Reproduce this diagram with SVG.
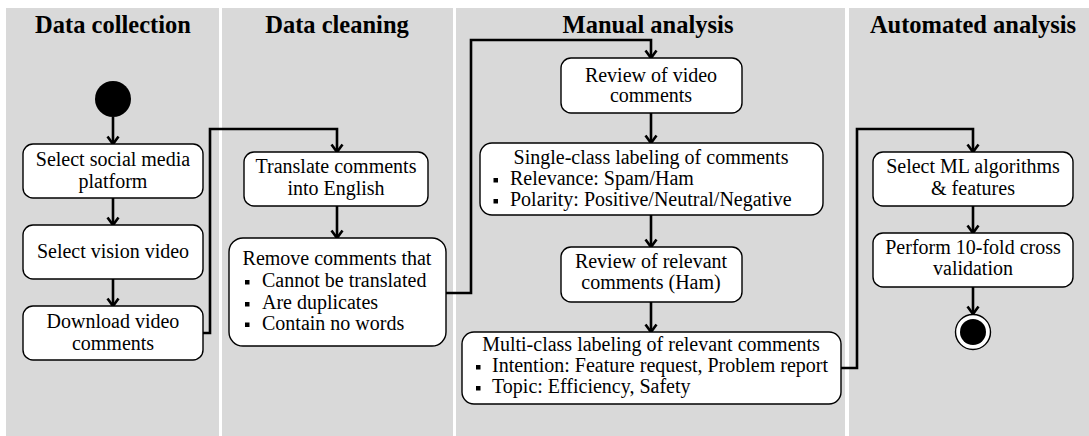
<svg xmlns="http://www.w3.org/2000/svg" width="1089" height="436" viewBox="0 0 1089 436">
<style>
.lane{fill:#d9d9d9}
.title{font-family:"Liberation Serif","Times New Roman",serif;font-weight:bold;font-size:24.5px;fill:#000;text-anchor:middle}
.node{fill:#fff;stroke:#000;stroke-width:1.4}
.t{font-family:"Liberation Serif","Times New Roman",serif;font-size:20px;fill:#000}
.c{text-anchor:middle}
.b{fill:#000}
.conn{fill:none;stroke:#000;stroke-width:2.6;stroke-linejoin:miter}
</style>
<defs>
<marker id="arr" markerUnits="userSpaceOnUse" markerWidth="16" markerHeight="16" refX="9" refY="7" orient="auto">
<path d="M1.5,1.5 L9,7 L1.5,12.5" fill="none" stroke="#000" stroke-width="2.6"/>
</marker>
</defs>
<rect width="1089" height="436" fill="#fff"/>
<g id="lanes">
<rect class="lane" x="6" y="8" width="213" height="428"/>
<rect class="lane" x="222" y="8" width="231" height="428"/>
<rect class="lane" x="456" y="8" width="389" height="428"/>
<rect class="lane" x="849" y="8" width="240" height="428"/>
<text class="title" x="113" y="33">Data collection</text>
<text class="title" x="337" y="33">Data cleaning</text>
<text class="title" x="648" y="33">Manual analysis</text>
<text class="title" x="973" y="33">Automated analysis</text>
</g>
<g id="connectors">
<path class="conn" d="M113,117 V144" marker-end="url(#arr)"/>
<path class="conn" d="M113,198 V225" marker-end="url(#arr)"/>
<path class="conn" d="M113,279 V306" marker-end="url(#arr)"/>
<path class="conn" d="M203,333 H210 V129 H337 V152" marker-end="url(#arr)"/>
<path class="conn" d="M337,206 V238" marker-end="url(#arr)"/>
<path class="conn" d="M446,293 H471 V40 H651 V58" marker-end="url(#arr)"/>
<path class="conn" d="M651,113 V143" marker-end="url(#arr)"/>
<path class="conn" d="M651,215 V247" marker-end="url(#arr)"/>
<path class="conn" d="M651,302 V332" marker-end="url(#arr)"/>
<path class="conn" d="M841,368 H857 V129 H973 V152" marker-end="url(#arr)"/>
<path class="conn" d="M973,206 V233" marker-end="url(#arr)"/>
<path class="conn" d="M973,287 V314" marker-end="url(#arr)"/>
</g>
<g id="start"><circle cx="113" cy="99" r="18" fill="#000"/></g>
<g id="n-platform">
<rect class="node" x="23" y="144" width="180" height="54" rx="10"/>
<text class="t c" x="113" y="166">Select social media</text>
<text class="t c" x="113" y="188">platform</text>
</g>
<g id="n-video">
<rect class="node" x="23" y="225" width="180" height="54" rx="10"/>
<text class="t c" x="113" y="258">Select vision video</text>
</g>
<g id="n-download">
<rect class="node" x="23" y="306" width="180" height="54" rx="10"/>
<text class="t c" x="113" y="328">Download video</text>
<text class="t c" x="113" y="350">comments</text>
</g>
<g id="n-translate">
<rect class="node" x="244" y="152" width="184" height="54" rx="10"/>
<text class="t c" x="336" y="173">Translate comments</text>
<text class="t c" x="336" y="195">into English</text>
</g>
<g id="n-remove">
<rect class="node" x="229" y="238" width="217" height="108" rx="14"/>
<text class="t c" x="337" y="265">Remove comments that</text>
<rect class="b" x="245" y="280" width="4.5" height="4.5"/>
<text class="t" x="262" y="287">Cannot be translated</text>
<rect class="b" x="245" y="302" width="4.5" height="4.5"/>
<text class="t" x="262" y="309">Are duplicates</text>
<rect class="b" x="245" y="322.5" width="4.5" height="4.5"/>
<text class="t" x="262" y="329.5">Contain no words</text>
</g>
<g id="n-review">
<rect class="node" x="561" y="58" width="181" height="55" rx="10"/>
<text class="t c" x="651" y="82">Review of video</text>
<text class="t c" x="651" y="102">comments</text>
</g>
<g id="n-single">
<rect class="node" x="480" y="143" width="343" height="72" rx="12"/>
<text class="t c" x="651" y="164">Single-class labeling of comments</text>
<rect class="b" x="493.5" y="178" width="4.5" height="4.5"/>
<text class="t" x="510" y="185">Relevance: Spam/Ham</text>
<rect class="b" x="493.5" y="199" width="4.5" height="4.5"/>
<text class="t" x="510" y="206">Polarity: Positive/Neutral/Negative</text>
</g>
<g id="n-relevant">
<rect class="node" x="561" y="247" width="181" height="55" rx="10"/>
<text class="t c" x="651" y="268">Review of relevant</text>
<text class="t c" x="651" y="289">comments (Ham)</text>
</g>
<g id="n-multi">
<rect class="node" x="462" y="332" width="379" height="72" rx="12"/>
<text class="t c" x="651" y="351">Multi-class labeling of relevant comments</text>
<rect class="b" x="476" y="365" width="4.5" height="4.5"/>
<text class="t" x="492" y="372">Intention: Feature request, Problem report</text>
<rect class="b" x="476" y="386" width="4.5" height="4.5"/>
<text class="t" x="492" y="393">Topic: Efficiency, Safety</text>
</g>
<g id="n-select-ml">
<rect class="node" x="873" y="152" width="200" height="54" rx="10"/>
<text class="t c" x="973" y="173">Select ML algorithms</text>
<text class="t c" x="973" y="195">&amp; features</text>
</g>
<g id="n-perform">
<rect class="node" x="873" y="233" width="200" height="54" rx="10"/>
<text class="t c" x="973" y="254">Perform 10-fold cross</text>
<text class="t c" x="973" y="275">validation</text>
</g>
<g id="end">
<circle cx="973" cy="332" r="17.5" fill="#fff" stroke="#000" stroke-width="1.4"/>
<circle cx="973" cy="332" r="13" fill="#000"/>
</g>
</svg>
